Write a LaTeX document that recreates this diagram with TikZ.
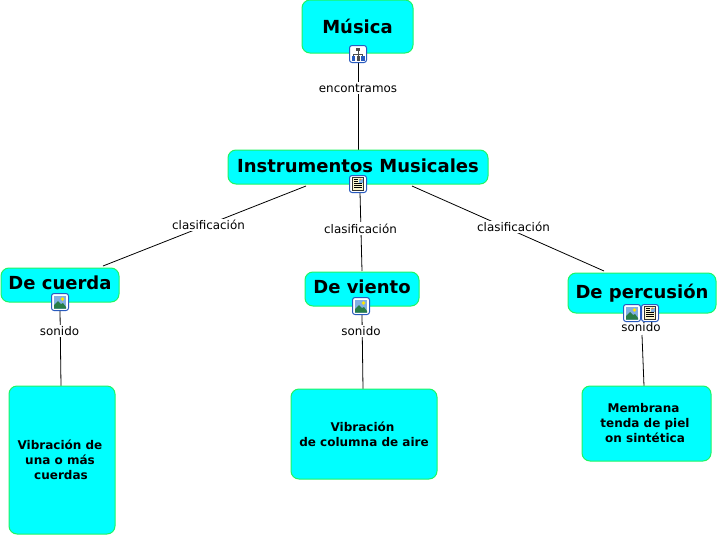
\documentclass[tikz,border=0pt]{standalone}
\usepackage{fontspec}
\setmainfont{DejaVu Sans}
\definecolor{boxgreen}{RGB}{30,245,100}
\definecolor{boxcyan}{RGB}{0,255,255}
\definecolor{iconblue}{RGB}{40,90,190}
\definecolor{skyblue}{RGB}{130,175,225}
\definecolor{leafgreen}{RGB}{40,125,70}
\definecolor{paper}{RGB}{250,245,205}
\tikzset{
 concept/.style={draw=boxgreen,fill=boxcyan,line width=1pt,rounded corners=8pt,inner sep=0pt,align=center,text=black,font=\bfseries},
 big/.style={concept,font=\fontsize{18}{20}\selectfont\bfseries},
 small/.style={concept,font=\fontsize{12}{15}\selectfont\bfseries},
 linklabel/.style={fill=white,inner sep=1.5pt,font=\fontsize{11.9}{13}\selectfont,text=black},
 link/.style={draw=black,line width=0.8pt},
 iconframe/.style={draw=iconblue,fill=white,line width=1pt,rounded corners=2.5pt},
 mapicon/.pic={
  \draw[iconframe] (-8.5,-8.5) rectangle (8.5,8.5);
  \fill[black!70] (-2,-6.5) rectangle (2,-3);
  \draw[black!70,line width=0.6pt] (0,-3) -- (0,0) (-4.5,2) -- (-4.5,0) -- (4.5,0) -- (4.5,2) (0,0) -- (0,2);
  \fill[iconblue] (-6.5,2) rectangle (-3,6.5);
  \fill[black!70] (-1.5,2) rectangle (1.5,6.5);
  \fill[iconblue] (3,2) rectangle (6.5,6.5);
 },
 imageicon/.pic={
  \draw[iconframe] (-8.5,-8.5) rectangle (8.5,8.5);
  \fill[skyblue] (-6,-6.5) rectangle (6,6.5);
  \fill[yellow!90!orange] (2.5,-3) circle (1.8);
  \fill[leafgreen] (-6,6.5) -- (-6,3) -- (-2,-1) -- (1,2) -- (3,1) -- (6,5) -- (6,6.5) -- cycle;
 },
 texticon/.pic={
  \draw[iconframe] (-8.5,-8.5) rectangle (8.5,8.5);
  \draw[black!80,fill=paper,line width=0.6pt] (-5.5,-6.5) rectangle (5.5,6.5);
  \fill[skyblue] (0.5,-5.5) rectangle (4.5,-1.5);
  \fill[orange] (2.5,-4.5) circle (0.9);
  \draw[black,line width=0.8pt] (-4,-4.5) -- (-0.5,-4.5) (-4,-2.5) -- (-0.5,-2.5) (-4,-0.5) -- (4,-0.5) (-4,1.5) -- (4,1.5) (-4,3.5) -- (4,3.5);
 },
}
\begin{document}
\begin{tikzpicture}[x=1pt,y=-1pt]
\useasboundingbox (0,0) rectangle (718,536);
% end points of connectors
\coordinate (mS) at (358,62);
\coordinate (iN) at (358,150);
\coordinate (iA) at (306,186);
\coordinate (cN) at (103,266);
\coordinate (iB) at (360,192);
\coordinate (vN) at (362,271);
\coordinate (iC) at (412,186);
\coordinate (pN) at (604,271);
\coordinate (cS) at (60,310);
\coordinate (vcN) at (61,386);
\coordinate (vS) at (362,315);
\coordinate (vvN) at (363,389);
\coordinate (pS) at (642,335);
\coordinate (vpN) at (644,386);
% connectors
\draw[link] (mS) -- (iN);
\draw[link] (iA) -- (cN);
\draw[link] (iB) -- (vN);
\draw[link] (iC) -- (pN);
\draw[link] (cS) -- (vcN);
\draw[link] (vS) -- (vvN);
\draw[link] (pS) -- (vpN);
% link labels
\node[linklabel] (l1) at (358,88) {encontramos};
\node[linklabel] (l2) at (208.5,225) {clasificación};
\node[linklabel] (l3) at (360.5,228.5) {clasificación};
\node[linklabel] (l4) at (513.5,227) {clasificación};
\node[linklabel] (l5) at (59.5,331) {sonido};
\node[linklabel] (l6) at (361,331) {sonido};
\node[linklabel] (l7) at (641,327) {sonido};
% concepts
\node[big,minimum width=111pt,minimum height=53pt] (musica) at (357.5,26.5) {Música};
\node[big,minimum width=260pt,minimum height=34pt] (instr) at (358,167) {\raisebox{2pt}{Instrumentos Musicales}};
\node[big,minimum width=118pt,minimum height=34pt] (cuerda) at (60,285) {\raisebox{4pt}{De cuerda}};
\node[big,minimum width=114pt,minimum height=34pt] (viento) at (362,289) {\raisebox{4pt}{De viento}};
\node[big,minimum width=148pt,minimum height=40pt] (percusion) at (642,293) {\raisebox{4pt}{De percusión}};
\node[small,minimum width=106pt,minimum height=148pt] (v1) at (62,460) {\hspace*{-4pt}Vibración de\\\hspace*{-4pt}una o más\\\hspace*{-2pt}cuerdas};
\node[small,minimum width=146pt,minimum height=90pt] (v2) at (364,434) {\hspace*{-3pt}Vibración\\de columna de aire};
\node[small,minimum width=129pt,minimum height=75pt] (v3) at (646.5,423.5) {\hspace*{-6pt}Membrana\\\hspace*{-3pt}tenda de piel\\\hspace*{-3pt}on sintética};
% icons
\pic at (358,54) {mapicon};
\pic at (358,184) {texticon};
\pic at (60,302) {imageicon};
\pic at (361,306) {imageicon};
\pic at (632,313) {imageicon};
\pic at (650,313) {texticon};
\end{tikzpicture}
\end{document}
